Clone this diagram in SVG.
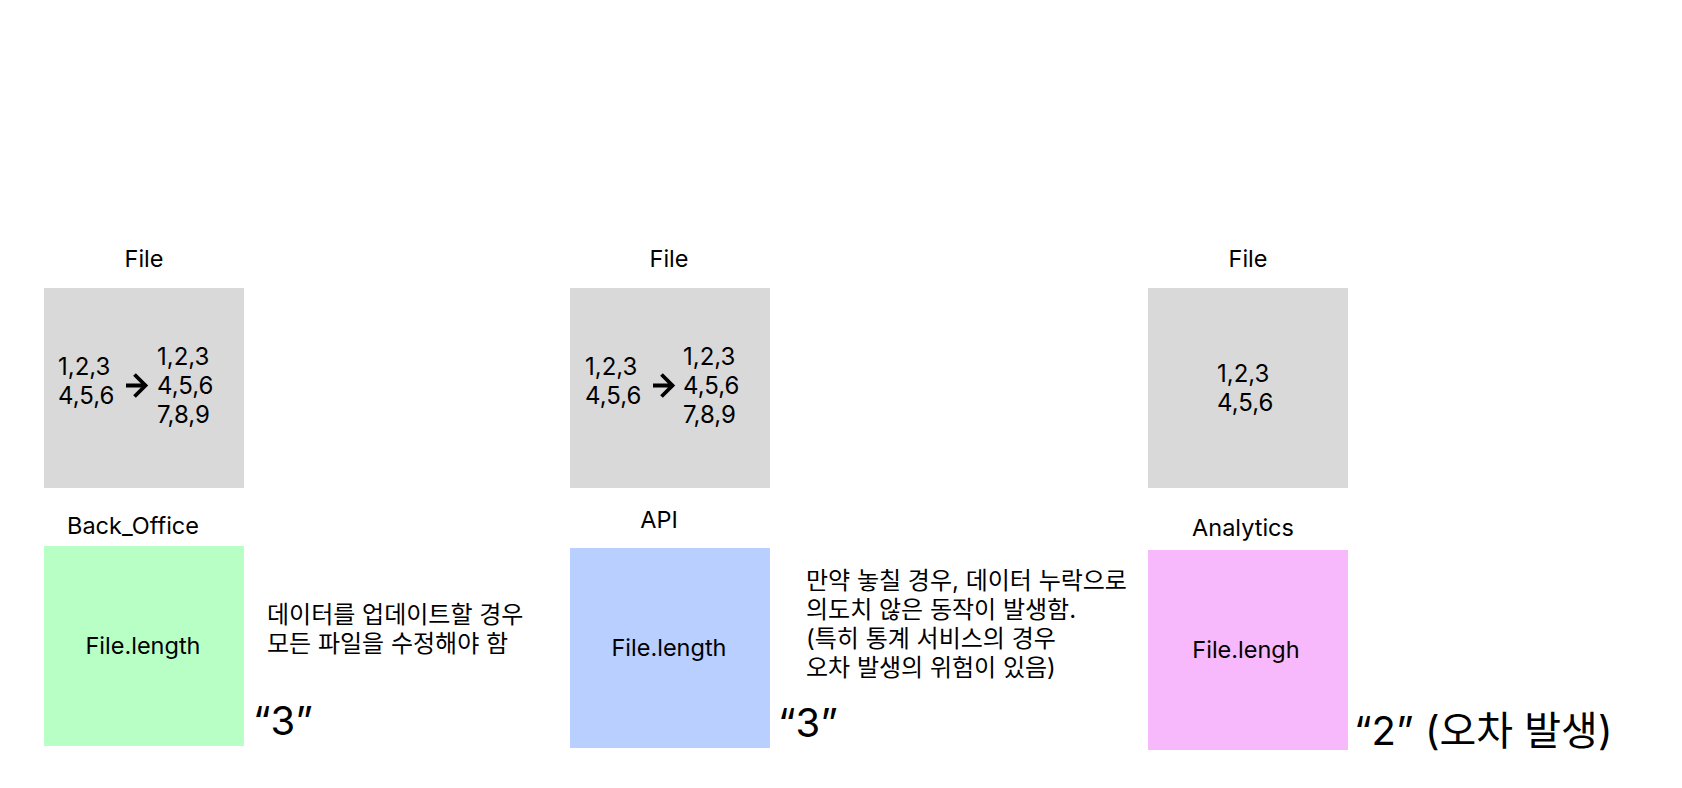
<svg xmlns="http://www.w3.org/2000/svg" width="1682" height="788" viewBox="0 0 1682 788">
<style>
text{font-family:Inter,"Noto Sans","Noto Sans CJK KR",sans-serif;fill:#000}
.lbl{font-size:23.5px;text-anchor:middle}
.num{font-size:24px}
.kr{font-size:24px;font-family:Inter,"Noto Sans CJK KR",sans-serif}
.big{font-size:40px;font-family:Inter,"Noto Sans CJK KR",sans-serif}
.file{fill:#D9D9D9}
.arr{fill:none;stroke:#000;stroke-width:3.8;stroke-linecap:butt;stroke-linejoin:miter}
</style>
<rect width="1682" height="788" fill="#fff"/>
<g id="file1">
<text class="lbl" x="144" y="267">File</text>
<rect class="file" x="44" y="288" width="200" height="200"/>
<text class="num" x="58" y="375">1,2,3</text>
<text class="num" x="58" y="404">4,5,6</text>
<text class="num" x="157" y="365">1,2,3</text>
<text class="num" x="157" y="394">4,5,6</text>
<text class="num" x="157" y="423">7,8,9</text>
</g>
<g id="backoffice">
<text class="lbl" x="133" y="534">Back_Office</text>
<rect x="44" y="546" width="200" height="200" fill="#B8FFC6"/>
<text class="lbl" x="143" y="654">File.length</text>
<text class="kr" x="267" y="623">데이터를 업데이트할 경우</text>
<text class="kr" x="267" y="652">모든 파일을 수정해야 함</text>
<text class="big" x="253" y="735">“3”</text>
</g>
<g id="file2">
<text class="lbl" x="669" y="267">File</text>
<rect class="file" x="570" y="288" width="200" height="200"/>
<text class="num" x="585" y="375">1,2,3</text>
<text class="num" x="585" y="404">4,5,6</text>
<text class="num" x="683" y="365">1,2,3</text>
<text class="num" x="683" y="394">4,5,6</text>
<text class="num" x="683" y="423">7,8,9</text>
</g>
<g id="api">
<text class="lbl" x="659" y="528">API</text>
<rect x="570" y="548" width="200" height="200" fill="#B8CFFF"/>
<text class="lbl" x="669" y="656">File.length</text>
<text class="kr" x="806" y="589">만약 놓칠 경우, 데이터 누락으로</text>
<text class="kr" x="806" y="618">의도치 않은 동작이 발생함.</text>
<text class="kr" x="806" y="647">(특히 통계 서비스의 경우</text>
<text class="kr" x="806" y="676">오차 발생의 위험이 있음)</text>
<text class="big" x="778" y="737">“3”</text>
</g>
<g id="file3">
<text class="lbl" x="1248" y="267">File</text>
<rect class="file" x="1148" y="288" width="200" height="200"/>
<text class="num" x="1217" y="382">1,2,3</text>
<text class="num" x="1217" y="411">4,5,6</text>
</g>
<g id="analytics">
<text class="lbl" x="1243" y="536">Analytics</text>
<rect x="1148" y="550" width="200" height="200" fill="#F8B8FC"/>
<text class="lbl" x="1246" y="658">File.lengh</text>
<text class="big" x="1354" y="745">“2” (오차 발생)</text>
</g>
<g id="connectors">
<path class="arr" d="M126 385.5H145M134.5 374.5L145.5 385.5L134.5 396.5"/>
<path class="arr" d="M653 385.5H672M661.5 374.5L672.5 385.5L661.5 396.5"/>
</g>
</svg>
